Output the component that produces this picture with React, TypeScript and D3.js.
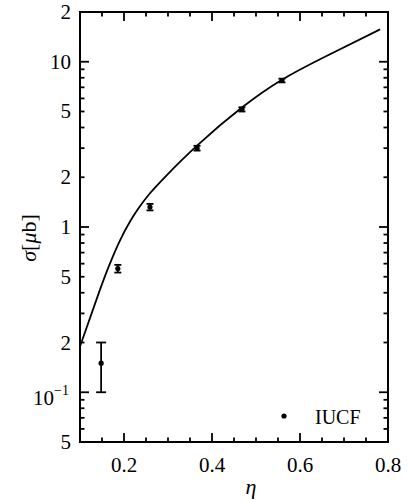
import React from 'react';
import * as d3 from 'd3';

// IUCF data points (eta, sigma [ub], error low, error high)
const etaPts = [0.148, 0.186, 0.259, 0.366, 0.468, 0.559];
const sigmaPts = [0.15, 0.56, 1.32, 3.0, 5.15, 7.7];
const errLo = [0.10, 0.53, 1.26, 2.9, 5.0, 7.5];
const errHi = [0.20, 0.59, 1.38, 3.1, 5.3, 7.9];

// theory curve
const curveEta = [0.1, 0.145, 0.168, 0.191, 0.215, 0.235, 0.259, 0.298, 0.366, 0.468, 0.559, 0.65, 0.782];
const curveSigma = [0.189, 0.415, 0.601, 0.83, 1.094, 1.32, 1.60, 2.07, 3.11, 5.28, 7.78, 10.5, 15.7];

const xMajor = [0.2, 0.4, 0.6, 0.8];
const xLabels = ['0.2', '0.4', '0.6', '0.8'];
const yLabelVals = [20, 10, 5, 2, 1, 0.5, 0.2, 0.1, 0.05];
const yLabelText = ['2', '10', '5', '2', '1', '5', '2', '10^-1', '5'];

const W = 409;
const H = 501;
const m = { left: 80, right: 388, top: 12, bottom: 442 };
const font = "'Liberation Serif', 'Times New Roman', Times, serif";

export default function App() {
  const x = d3.scaleLinear().domain([0.1, 0.8]).range([m.left, m.right]);
  const y = d3.scaleLog().domain([0.05, 20]).range([m.bottom, m.top]);

  const xMinor = d3.range(0.15, 0.8, 0.05).filter(v => !xMajor.some(t => Math.abs(t - v) < 1e-6));
  const yMajor = [0.1, 1, 10];
  const yMinor: number[] = [];
  [0.01, 0.1, 1, 10].forEach(dec => {
    for (let k = 2; k <= 9; k++) {
      const v = dec * k;
      if (v > 0.05 && v < 20) yMinor.push(v);
    }
  });

  const line = d3.line<number>()
    .x((_, i) => x(curveEta[i]))
    .y((_, i) => y(curveSigma[i]))
    .curve(d3.curveNatural);

  const majLen = 9;
  const minLen = 4.5;

  return (
    <svg width={W} height={H} style={{ position: 'absolute', left: 0, top: 0, background: '#fff', fontFamily: font }}>
      {/* frame */}
      <rect x={m.left} y={m.top} width={m.right - m.left} height={m.bottom - m.top}
        fill="none" stroke="#000" strokeWidth={2} />

      {/* x ticks bottom & top */}
      {xMajor.map(v => (
        <g key={'xm' + v}>
          <line x1={x(v)} x2={x(v)} y1={m.bottom} y2={m.bottom - majLen} stroke="#000" strokeWidth={1.8} />
          <line x1={x(v)} x2={x(v)} y1={m.top} y2={m.top + majLen} stroke="#000" strokeWidth={1.8} />
        </g>
      ))}
      {xMinor.map(v => (
        <g key={'xn' + v}>
          <line x1={x(v)} x2={x(v)} y1={m.bottom} y2={m.bottom - minLen} stroke="#000" strokeWidth={1.8} />
          <line x1={x(v)} x2={x(v)} y1={m.top} y2={m.top + minLen} stroke="#000" strokeWidth={1.8} />
        </g>
      ))}

      {/* y ticks left & right */}
      {yMajor.map(v => (
        <g key={'ym' + v}>
          <line x1={m.left} x2={m.left + majLen} y1={y(v)} y2={y(v)} stroke="#000" strokeWidth={1.8} />
          <line x1={m.right} x2={m.right - majLen} y1={y(v)} y2={y(v)} stroke="#000" strokeWidth={1.8} />
        </g>
      ))}
      {yMinor.map(v => (
        <g key={'yn' + v}>
          <line x1={m.left} x2={m.left + minLen} y1={y(v)} y2={y(v)} stroke="#000" strokeWidth={1.8} />
          <line x1={m.right} x2={m.right - minLen} y1={y(v)} y2={y(v)} stroke="#000" strokeWidth={1.8} />
        </g>
      ))}

      {/* x tick labels */}
      {xMajor.map((v, i) => (
        <text key={'xl' + v} x={x(v)} y={472} textAnchor="middle" fontFamily={font} fontSize={21}>{xLabels[i]}</text>
      ))}

      {/* y tick labels */}
      {yLabelVals.map((v, i) => {
        const t = yLabelText[i];
        if (t.includes('^')) {
          const [base, exp] = t.split('^');
          return (
            <text key={'yl' + i} x={69} y={y(v) + 13} textAnchor="end" fontFamily={font} fontSize={21}>
              {base}<tspan fontSize={14} dy={-10}>{exp.replace('-', '\u2212')}</tspan>
            </text>
          );
        }
        return (
          <text key={'yl' + i} x={71} y={y(v) + 7} textAnchor="end" fontFamily={font} fontSize={21}>{t}</text>
        );
      })}

      {/* axis titles */}
      <text x={251} y={494} textAnchor="middle" fontFamily={font} fontSize={22} fontStyle="italic">η</text>
      <text transform="translate(36,238) rotate(-90)" textAnchor="middle" fontFamily={font} fontSize={22}>
        <tspan fontStyle="italic">σ</tspan>[<tspan fontStyle="italic">μ</tspan>b]
      </text>

      {/* theory curve */}
      <path d={line(curveEta) || ''} fill="none" stroke="#000" strokeWidth={1.8} />

      {/* data points */}
      {etaPts.map((e, i) => {
        const cx = x(e);
        const cap = i === 0 ? 5 : 3.5;
        return (
          <g key={'p' + i}>
            <line x1={cx} x2={cx} y1={y(errLo[i])} y2={y(errHi[i])} stroke="#000" strokeWidth={1.8} />
            <line x1={cx - cap} x2={cx + cap} y1={y(errLo[i])} y2={y(errLo[i])} stroke="#000" strokeWidth={1.8} />
            <line x1={cx - cap} x2={cx + cap} y1={y(errHi[i])} y2={y(errHi[i])} stroke="#000" strokeWidth={1.8} />
            <circle cx={cx} cy={y(sigmaPts[i])} r={2.6} fill="#000" />
          </g>
        );
      })}

      {/* legend */}
      <circle cx={284} cy={416} r={2.6} fill="#000" />
      <text x={315} y={424} fontFamily={font} fontSize={20}>IUCF</text>
    </svg>
  );
}
